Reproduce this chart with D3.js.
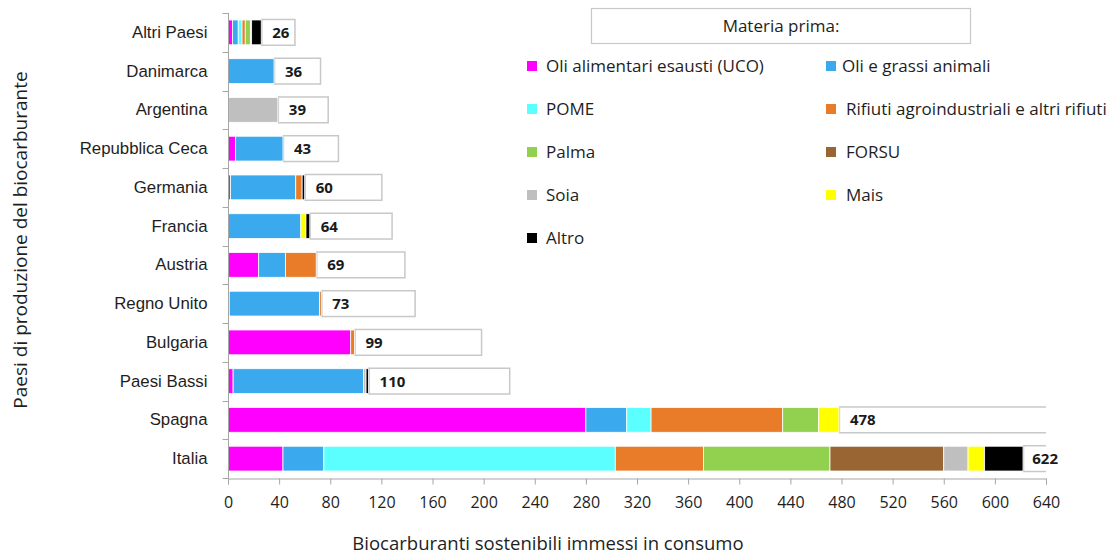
<!DOCTYPE html>
<html>
<head>
<meta charset="utf-8">
<script src="https://cdn.jsdelivr.net/npm/d3@7"></script>
<style>
  html, body { margin: 0; padding: 0; background: #fff; }
  svg { display: block; font-family: "Open Sans", "Noto Sans", sans-serif; }
</style>
</head>
<body>
<svg id="chart" width="1110" height="558"></svg>
<script>
// ---- Data ----
const categories = ["Altri Paesi", "Danimarca", "Argentina", "Repubblica Ceca", "Germania", "Francia",
  "Austria", "Regno Unito", "Bulgaria", "Paesi Bassi", "Spagna", "Italia"];

const seriesNames = ["Oli alimentari esausti (UCO)", "Oli e grassi animali", "POME",
  "Rifiuti agroindustriali e altri rifiuti", "Palma", "FORSU", "Soia", "Mais", "Altro"];

const seriesColors = ["#FF00FF", "#3AA9EE", "#5CFFFF", "#E87C28", "#92D050", "#996633", "#BFBFBF", "#FFFF00", "#000000"];

const uco      = [3.5, 0, 0, 6, 2, 0, 24, 1, 96, 4, 280, 43];
const animali  = [4.5, 36, 0, 37, 51, 57, 21, 70.5, 0, 102, 32, 32];
const pome     = [3, 0, 0, 0, 0, 0, 0, 0, 0, 0, 19, 228];
const rifiuti  = [2.5, 0, 0.5, 0, 5, 0, 24, 1.5, 3, 0, 103, 69];
const palma    = [4, 0, 0, 0, 0, 0, 0, 0, 0, 0, 28, 99];
const forsu    = [0, 0, 0, 0, 0, 0, 0, 0, 0, 0, 0, 89];
const soia     = [1, 0, 38.5, 0, 0, 0, 0, 0, 0, 2, 0, 19];
const mais     = [0, 0, 0, 0, 0, 4, 0, 0, 0, 0, 16, 13];
const altro    = [7.5, 0, 0, 0, 2, 3, 0, 0, 0, 2, 0, 30];
const totals   = [26, 36, 39, 43, 60, 64, 69, 73, 99, 110, 478, 622];

const xTicks = [0, 40, 80, 120, 160, 200, 240, 280, 320, 360, 400, 440, 480, 520, 560, 600, 640];

const legendTitle = "Materia prima:";
const xTitle = "Biocarburanti sostenibili immessi in consumo";
const yTitle = "Paesi di produzione del biocarburante";

// ---- Build table ----
const seriesValues = [uco, animali, pome, rifiuti, palma, forsu, soia, mais, altro];
const table = categories.map((c, i) => {
  const row = { country: c, total: totals[i] };
  seriesNames.forEach((s, j) => row[s] = seriesValues[j][i]);
  return row;
});

// ---- Layout ----
const svg = d3.select("#chart");
const plotLeft = 228, plotRight = 1046, plotTop = 13, plotBottom = 478;
const axisColor = "#A6A6A6";
const textColor = "#1e1e1e";

const x = d3.scaleLinear().domain([0, 640]).range([plotLeft, plotRight]);
const y = d3.scaleBand().domain(categories).range([plotTop, plotBottom]).paddingInner(0.36).paddingOuter(0.18);

const stack = d3.stack().keys(seriesNames);
const stacked = stack(table);

// clip path for plot area
svg.append("defs").append("clipPath").attr("id", "plotclip")
  .append("rect").attr("x", plotLeft).attr("y", 0).attr("width", plotRight - plotLeft).attr("height", 558);

const plot = svg.append("g").attr("clip-path", "url(#plotclip)");

// total boxes (white with gray border) placed after the stacked bars
plot.append("g").selectAll("rect").data(table).join("rect")
  .attr("x", d => x(d.total) + 0.5)
  .attr("y", d => y(d.country) - 0.5)
  .attr("width", d => x(d.total) - x(0))
  .attr("height", y.bandwidth() + 1)
  .attr("fill", "#fff")
  .attr("stroke", "#C8C8C8")
  .attr("stroke-width", 1.5);

// stacked segments
plot.append("g").selectAll("g").data(stacked).join("g")
  .attr("fill", (d, i) => seriesColors[i])
  .selectAll("rect").data(d => d.filter(p => p[1] - p[0] > 0)).join("rect")
  .attr("x", p => x(p[0]))
  .attr("y", p => y(p.data.country))
  .attr("width", p => x(p[1]) - x(p[0]))
  .attr("height", y.bandwidth())
  .attr("stroke", "#fff")
  .attr("stroke-width", 0.8);

// value labels
const labels = svg.append("g").selectAll("text").data(table).join("text")
  .attr("x", d => x(d.total) + 11)
  .attr("y", d => y(d.country) + y.bandwidth() / 2)
  .attr("dy", "0.36em")
  .attr("font-size", 15)
  .attr("font-weight", "bold")
  .attr("fill", "#1a1a1a")
  .text(d => d.total);
labels.each(function(d) {
  const w = this.getComputedTextLength();
  const maxEnd = plotRight + 12;
  if (x(d.total) + 11 + w > maxEnd) d3.select(this).attr("x", maxEnd - w);
});

// X axis
const xAxis = svg.append("g").attr("transform", `translate(0,${plotBottom + 0.5})`)
  .call(d3.axisBottom(x).tickValues(xTicks).tickSize(6).tickPadding(12).tickFormat(d3.format("d")));
xAxis.select(".domain").attr("stroke", axisColor);
xAxis.selectAll(".tick line").attr("stroke", axisColor);
xAxis.selectAll("text").attr("font-size", 16).attr("fill", textColor).attr("font-family", "Open Sans, sans-serif");

// Y axis
const yAxis = svg.append("g").attr("transform", `translate(${plotLeft + 0.5},0)`)
  .call(d3.axisLeft(y).tickSize(0).tickPadding(21));
yAxis.select(".domain").attr("stroke", axisColor).attr("d", `M0,${plotTop}V${plotBottom}`);
yAxis.selectAll("text").attr("font-size", 16.8).attr("fill", textColor);
// category boundary ticks
const step = y.step();
const boundaries = categories.map(c => y(c) - y.paddingInner() * step / 2).concat([plotBottom]);
yAxis.append("g").selectAll("line").data(boundaries).join("line")
  .attr("x1", -6).attr("x2", 0)
  .attr("y1", d => Math.round(d) + 0.5).attr("y2", d => Math.round(d) + 0.5)
  .attr("stroke", axisColor);

// Axis titles
svg.append("text")
  .attr("x", 548).attr("y", 550)
  .attr("text-anchor", "middle")
  .attr("font-size", 18.5)
  .attr("fill", textColor)
  .text(xTitle);

svg.append("text")
  .attr("transform", "translate(27,240) rotate(-90)")
  .attr("text-anchor", "middle")
  .attr("font-size", 19)
  .attr("fill", textColor)
  .text(yTitle);

// Legend
const lg = svg.append("g");
lg.append("rect").attr("x", 591.5).attr("y", 8.5).attr("width", 379).attr("height", 35)
  .attr("fill", "#fff").attr("stroke", "#C8C8C8").attr("stroke-width", 1.2);
lg.append("text").attr("x", 781).attr("y", 26).attr("dy", "0.35em")
  .attr("text-anchor", "middle").attr("font-size", 17).attr("fill", textColor).text(legendTitle);

const legendCols = [527, 826];
const legendRowY = [66, 109, 152, 195, 238];
const items = lg.selectAll("g.item").data(seriesNames).join("g").attr("class", "item")
  .attr("transform", (d, i) => `translate(${legendCols[i % 2]},${legendRowY[Math.floor(i / 2)]})`);
items.append("rect").attr("x", 0).attr("y", -5).attr("width", 10).attr("height", 10)
  .attr("fill", (d, i) => seriesColors[i]);
items.append("text").attr("x", (d, i) => i % 2 === 0 ? 19 : (i === 1 ? 16 : 20)).attr("y", 0).attr("dy", "0.35em")
  .attr("font-size", 17).attr("fill", textColor).text(d => d);
</script>
</body>
</html>
